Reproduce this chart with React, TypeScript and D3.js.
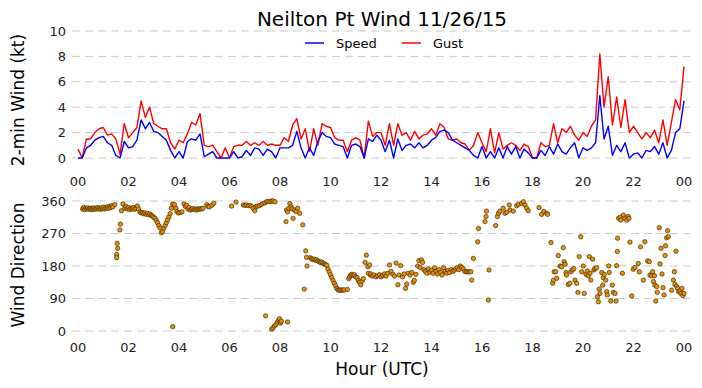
import React from "react";
import * as d3 from "d3";

// 2-min wind, sampled every 10 minutes from 00:00 to 24:00 UTC
const speed = [
  0.0, 0.0, 0.8, 1.0, 1.4, 1.6,
  1.7, 1.2, 1.0, 0.2, 0.0, 1.3,
  0.8, 0.9, 1.4, 3.0, 2.3, 2.8,
  2.1, 2.0, 1.7, 1.4, 0.6, 0.0,
  0.5, 0.0, 1.3, 1.5, 1.4, 1.9,
  0.1, 0.3, 0.5, 0.0, 0.0, 0.0,
  0.0, 0.5, 0.0, 0.1, 0.6, 0.2,
  0.8, 0.7, 0.2, 0.7, 0.5, 0.0,
  0.8, 0.8, 0.8, 1.0, 2.1, 0.8,
  0.0, 0.8, 0.2, 1.3, 2.0, 1.7,
  1.6, 1.1, 1.0, 0.9, 0.0, 1.0,
  1.1, 0.9, 0.0, 1.5, 1.3, 1.8,
  1.4, 0.5, 1.4, 0.0, 1.5, 0.6,
  1.0, 1.1, 0.8, 1.2, 0.8, 1.0,
  1.4, 1.6, 2.1, 2.2, 2.0, 1.4,
  1.2, 1.0, 0.8, 0.6, 0.2, 0.0,
  0.9, 0.0, 0.5, 0.0, 0.8, 0.0,
  0.9, 0.3, 0.9, 0.0, 0.7, 0.4,
  0.0, 0.0, 0.6, 0.2, 0.9, 0.3,
  1.1, 0.5, 0.3, 0.8, 1.2, 0.0,
  0.8, 0.6, 0.8, 1.2, 4.9, 1.5,
  2.5, 0.2, 1.0, 0.5, 1.2, 0.0,
  0.3, 0.4, 0.0, 0.6, 0.5, 0.9,
  0.3, 1.2, 0.0, 0.6, 2.0, 2.3,
  4.5,
];

const gust = [
  0.7, 0.0, 1.5, 1.5, 2.0, 2.3,
  2.4, 1.8, 1.9, 1.5, 0.3, 2.7,
  1.6, 2.0, 2.4, 4.5, 3.2, 4.0,
  2.7, 2.5, 2.3, 2.3, 1.2, 0.7,
  1.4, 1.2, 1.9, 2.8, 2.6, 3.5,
  1.0, 0.9, 1.0, 0.5, 0.0, 0.8,
  0.0, 0.9, 1.0, 1.0, 1.3, 1.0,
  1.2, 1.0, 1.3, 1.0, 1.1, 1.0,
  1.0, 1.6, 1.3, 2.6, 3.1, 1.5,
  2.3, 0.5, 2.3, 1.0, 2.7, 2.5,
  2.4, 1.6, 1.4, 1.4, 0.5, 1.4,
  1.6, 1.4, 0.0, 2.9, 1.7, 2.0,
  2.0, 1.0, 2.7, 1.0, 2.7, 1.8,
  2.0, 1.4, 2.1, 1.5, 1.8, 1.9,
  2.3, 1.8, 2.7, 2.4, 1.5, 1.4,
  1.5, 1.2, 1.1, 0.6, 1.0, 2.0,
  1.2, 0.5, 2.3, 0.4, 2.0, 0.7,
  1.0, 1.2, 1.0, 0.6, 1.1, 0.9,
  0.0, 0.0, 1.2, 0.9, 1.0, 2.7,
  1.2, 2.3, 2.0, 2.5, 1.8, 1.4,
  2.0, 1.7, 2.5, 3.0, 8.2, 4.0,
  6.4, 2.6, 4.8, 2.4, 4.6, 2.0,
  2.5, 2.0, 1.5, 2.0, 1.6, 2.2,
  1.2, 3.0, 1.0, 2.8, 4.6, 3.8,
  7.2,
];

// [hour, direction in degrees]
const direction: [number, number][] = [
  [0.18,338],[0.22,342],[0.26,336],[0.3,340],[0.34,338],[0.38,341],[0.42,337],[0.46,339],
  [0.5,340],[0.54,336],[0.58,339],[0.62,341],[0.66,337],[0.7,340],[0.74,338],[0.78,342],
  [0.82,338],[0.86,340],[0.9,337],[0.94,341],[0.98,339],[1.02,343],[1.06,338],[1.1,342],
  [1.14,340],[1.18,344],[1.22,340],[1.26,345],[1.3,342],[1.34,347],[1.38,344],[1.46,350],
  [1.53,212],[1.53,203],[1.57,229],[1.55,243],[1.66,280],[1.68,296],[1.72,333],[1.78,352],
  [1.85,340],[1.9,345],[1.95,338],[2.0,342],[2.05,336],[2.1,340],[2.15,338],[2.2,342],
  [2.25,337],[2.3,340],[2.35,346],[2.4,338],
  [2.45,330],[2.5,327],[2.55,328],[2.6,325],[2.65,327],[2.7,323],[2.75,326],[2.8,322],
  [2.85,324],[2.9,320],[2.95,318],[3.0,315],[3.05,312],[3.1,306],[3.15,300],[3.2,292],
  [3.25,285],[3.3,272],[3.35,275],
  [3.4,285],[3.45,292],[3.5,300],[3.55,308],[3.6,316],[3.65,325],[3.7,340],[3.75,352],
  [3.82,350],[3.88,340],[3.92,330],[3.75,12],
  [3.98,327],[4.05,328],[4.12,330],[4.2,352],[4.25,345],[4.3,348],[4.35,338],[4.4,342],[4.45,335],
  [4.5,337],[4.55,339],[4.6,336],[4.65,338],[4.7,335],[4.75,338],[4.8,337],[4.85,339],
  [4.9,338],[4.95,340],
  [5.1,350],[5.15,345],[5.2,344],[5.3,348],[5.38,354],
  [6.08,346],[6.26,357],
  [6.55,349],[6.62,348],[6.68,349],[6.75,347],[6.82,348],[6.88,345],[6.94,340],[7.0,333],
  [7.05,344],[7.1,346],[7.18,347],[7.25,350],[7.32,353],[7.4,355],[7.47,358],[7.53,359],
  [7.6,358],[7.67,360],[7.73,360],[7.8,358],
  [7.43,42],[7.67,5],[7.72,9],[7.78,14],[7.84,18],[7.9,25],[7.95,30],[7.98,34],[8.02,22],
  [8.05,27],[8.3,25],
  [8.24,303],[8.26,335],[8.3,330],[8.35,340],[8.39,353],[8.44,344],[8.48,338],[8.52,312],
  [8.58,335],[8.64,331],[8.7,340],[8.78,326],
  [8.9,294],[8.96,116],[9.02,222],[9.05,204],[9.07,180],
  [9.2,203],[9.25,200],[9.3,198],[9.35,199],[9.4,196],[9.45,197],[9.5,194],[9.55,192],
  [9.6,190],[9.65,191],[9.7,188],[9.75,186],[9.8,184],[9.85,182],
  [9.9,172],[9.95,164],[10.0,156],[10.05,148],[10.1,140],[10.15,132],[10.2,125],[10.25,118],
  [10.3,114],[10.35,113],[10.4,113],[10.45,114],[10.5,113],[10.55,114],[10.67,115],
  [10.72,145],[10.76,150],[10.8,155],[10.85,157],[10.9,154],[10.95,156],[11.0,150],[11.05,148],
  [11.1,140],[11.15,135],[11.2,128],[11.25,138],[11.3,145],
  [11.37,190],[11.42,210],[11.48,178],[11.55,183],[11.5,160],[11.58,155],[11.6,158],
  [11.65,152],[11.72,155],[11.8,150],[11.87,153],[11.94,156],[12.0,150],[12.07,154],[12.14,158],
  [12.2,152],[12.27,160],[12.34,183],[12.4,165],[12.47,157],[12.54,152],[12.6,188],[12.67,128],
  [12.72,155],[12.78,181],[12.85,150],[12.92,158],[12.97,118],[13.02,130],[13.08,160],[13.15,155],
  [13.22,162],[13.28,135],[13.32,140],[13.38,157],[13.45,180],[13.5,195],[13.55,176],[13.6,197],
  [13.65,190],[13.7,170],[13.76,165],[13.82,160],[13.88,172],[13.94,163],[14.0,168],[14.06,160],
  [14.12,175],[14.18,165],[14.24,158],[14.3,170],[14.36,162],[14.42,155],[14.48,175],[14.54,165],
  [14.6,160],[14.66,168],[14.72,162],[14.78,170],[14.84,165],[14.9,168],[14.96,172],[15.02,175],
  [15.08,170],[15.14,180],[15.2,176],[15.26,172],[15.32,165],[15.38,164],[15.44,164],[15.5,164],
  [15.56,164],
  [15.59,141],[15.66,201],[15.83,247],[15.86,284],[16.12,303],[16.16,317],[16.18,332],
  [16.28,169],[16.25,86],[16.54,292],[16.61,317],[16.65,326],[16.71,332],[16.84,340],
  [16.91,326],[16.98,329],[17.08,349],[17.11,335],[17.24,332],[17.37,347],[17.44,351],
  [17.57,353],[17.64,358],[17.7,349],[17.77,340],[17.83,333],
  [18.26,342],[18.36,323],[18.45,331],[18.56,326],[18.6,323],
  [18.73,245],[18.8,132],[18.83,141],[18.86,164],[18.92,164],[18.96,146],[19.02,209],[19.09,180],
  [19.15,178],[19.22,231],[19.25,192],[19.29,185],[19.33,162],[19.35,155],[19.42,129],[19.48,132],
  [19.52,164],[19.58,169],[19.64,173],[19.68,141],[19.75,132],[19.8,107],[19.85,206],[19.91,261],
  [19.95,164],[20.01,180],[20.05,104],[20.12,157],[20.17,166],[20.21,153],[20.25,206],[20.28,160],
  [20.31,141],[20.38,199],[20.43,169],[20.47,173],[20.54,175],[20.57,95],[20.61,81],[20.64,116],
  [20.67,104],[20.74,162],[20.78,127],[20.8,148],[20.84,157],[20.9,141],[20.94,109],[20.96,100],
  [21.02,180],[21.04,162],[21.1,83],[21.16,127],[21.2,107],[21.27,104],[21.31,83],[21.33,181],
  [21.36,220],[21.37,257],[21.41,312],[21.47,315],[21.5,307],[21.56,160],[21.6,321],[21.66,312],
  [21.73,307],[21.79,317],[21.82,312],[21.86,246],[21.93,97],[21.99,171],[22.06,176],[22.19,187],
  [22.23,164],[22.28,233],[22.39,141],[22.45,247],[22.56,194],[22.63,192],[22.65,155],[22.72,153],
  [22.76,164],[22.79,137],[22.83,153],[22.85,127],[22.88,83],[22.92,123],[22.94,107],[23.02,286],
  [23.05,186],[23.09,229],[23.13,158],[23.17,120],[23.21,100],[23.25,209],[23.27,236],[23.31,258],
  [23.35,278],[23.38,261],[23.51,113],[23.58,141],[23.62,164],[23.64,129],[23.68,221],[23.71,123],
  [23.75,118],[23.79,109],[23.84,111],[23.88,104],[23.92,118],[23.95,98],[24.0,104],
];

const hourTicks = [0, 2, 4, 6, 8, 10, 12, 14, 16, 18, 20, 22, 24];
const windTicks = [0, 2, 4, 6, 8, 10];
const dirTicks = [0, 90, 180, 270, 360];

const FONT = "DejaVu Sans, sans-serif";

export default function App() {
  const width = 702;
  const height = 388;
  const gridX0 = 72;
  const gridX1 = 690;

  const x = d3.scaleLinear().domain([0, 24]).range([78, 684]);
  const yWind = d3.scaleLinear().domain([0, 10]).range([158, 31]);
  const yDir = d3.scaleLinear().domain([0, 360]).range([331, 201]);

  const step = 24 / (speed.length - 1);
  const windLine = d3
    .line<number>()
    .x((_, i) => x(i * step))
    .y((d) => yWind(d));

  const hourLabel = (h: number) => d3.format("02d")(h % 24);

  return (
    <svg
      width={width}
      height={height}
      style={{ position: "absolute", left: 0, top: 0, background: "#fff" }}
      fontFamily={FONT}
    >
      {/* title */}
      <text x={382} y={26} textAnchor="middle" fontSize={20} fill="#000">
        Neilton Pt Wind 11/26/15
      </text>

      {/* top panel grid + ticks */}
      {windTicks.map((t) => (
        <g key={"wg" + t}>
          <line x1={gridX0} x2={gridX1} y1={yWind(t)} y2={yWind(t)}
            stroke="#cbcbcb" strokeWidth={1} strokeDasharray="8,5" />
          <text x={66} y={yWind(t)} dy="0.35em" textAnchor="end" fontSize={13} fill="#222">
            {t}
          </text>
        </g>
      ))}
      {hourTicks.map((h) => (
        <text key={"hx1" + h} x={x(h)} y={186} textAnchor="middle" fontSize={13} fill="#222">
          {hourLabel(h)}
        </text>
      ))}

      <path d={windLine(gust) || ""} fill="none" stroke="#ff0000" strokeWidth={1.4} strokeLinejoin="round" />
      <path d={windLine(speed) || ""} fill="none" stroke="#0000ff" strokeWidth={1.4} strokeLinejoin="round" />

      {/* legend */}
      <line x1={305} x2={324} y1={43} y2={43} stroke="#0000ff" strokeWidth={1.5} />
      <text x={336} y={47.5} fontSize={13} fill="#000">Speed</text>
      <line x1={402} x2={421} y1={43} y2={43} stroke="#ff0000" strokeWidth={1.5} />
      <text x={433} y={47.5} fontSize={13} fill="#000">Gust</text>

      <text transform={`translate(24,100) rotate(-90)`} textAnchor="middle" fontSize={17} fill="#000">
        2-min Wind (kt)
      </text>

      {/* bottom panel */}
      {dirTicks.map((t) => (
        <g key={"dg" + t}>
          <line x1={gridX0} x2={gridX1} y1={yDir(t)} y2={yDir(t)}
            stroke="#cbcbcb" strokeWidth={1} strokeDasharray="8,5" />
          <text x={66} y={yDir(t)} dy="0.35em" textAnchor="end" fontSize={13} fill="#222">
            {t}
          </text>
        </g>
      ))}
      {hourTicks.map((h) => (
        <text key={"hx2" + h} x={x(h)} y={352} textAnchor="middle" fontSize={13} fill="#222">
          {hourLabel(h)}
        </text>
      ))}

      {direction.map(([h, d], i) => (
        <circle key={"p" + i} cx={x(h)} cy={yDir(d)} r={2.2}
          fill="#e8900a" stroke="#2b1d00" strokeWidth={0.6} />
      ))}

      <text transform={`translate(24,265) rotate(-90)`} textAnchor="middle" fontSize={17} fill="#000">
        Wind Direction
      </text>
      <text x={382} y={375} textAnchor="middle" fontSize={17} fill="#000">
        Hour (UTC)
      </text>
    </svg>
  );
}
